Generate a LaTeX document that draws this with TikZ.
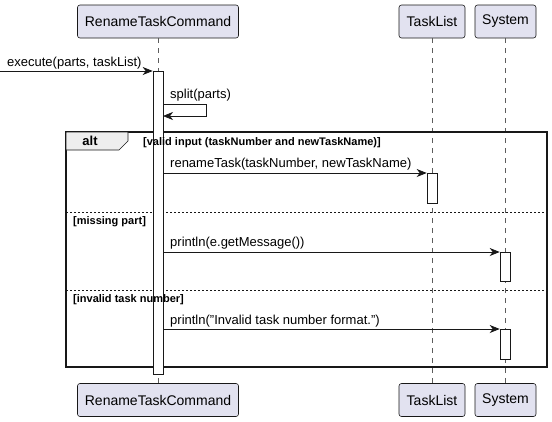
\documentclass[tikz,border=0pt]{standalone}
\usepackage{fontspec}
\setmainfont{Liberation Sans}
\usetikzlibrary{arrows.meta}
\definecolor{partfill}{HTML}{E2E2F0}
\definecolor{partline}{HTML}{181818}
\definecolor{tabfill}{HTML}{EEEEEE}
\tikzset{
  participant/.style={draw=partline, fill=partfill, rounded corners=2.5pt, line width=0.6pt,
    minimum height=33pt, inner sep=0pt, font=\fontsize{14}{16}\selectfont},
  lifeline/.style={draw=partline!70, line width=0.5pt, dash pattern=on 5pt off 5pt},
  act/.style={draw=partline, fill=white, line width=0.6pt, minimum width=10pt, inner sep=0pt, anchor=north},
  msg/.style={draw=partline, line width=0.7pt, -{Stealth[length=10pt,width=8pt,inset=3pt]}},
  msglabel/.style={anchor=base west, inner sep=0pt, font=\fontsize{13}{15}\selectfont},
  guard/.style={anchor=base west, inner sep=0pt, font=\fontsize{11}{13}\selectfont\bfseries},
  framebox/.style={draw=partline, line width=1.6pt},
  separator/.style={draw=partline, line width=0.6pt, dash pattern=on 2pt off 2pt},
}
\begin{document}
\begin{tikzpicture}[x=1pt,y=-1pt]
\useasboundingbox (0,0) rectangle (552,421);
% participants
\node[participant, minimum width=161pt] (rtcTop) at (158,21.5) {RenameTaskCommand};
\node[participant, minimum width=66pt] (tlTop) at (432,21.5) {TaskList};
\node[participant, minimum width=61pt] (sysTop) at (505.5,21.5) {System};
\node[participant, minimum width=161pt] (rtcBot) at (158,400) {RenameTaskCommand};
\node[participant, minimum width=66pt] (tlBot) at (432,400) {TaskList};
\node[participant, minimum width=61pt] (sysBot) at (505.5,400) {System};
% lifelines
\draw[lifeline] (rtcTop) -- (rtcBot);
\draw[lifeline] (tlTop) -- (tlBot);
\draw[lifeline] (sysTop) -- (sysBot);
% alt frame
\coordinate (fNW) at (66,132);
\coordinate (fSE) at (547,367);
\draw[framebox] (fNW) rectangle (fSE);
\draw[draw=partline, line width=0.6pt, fill=tabfill] (66,132) -- (128,132) -- (128,141) -- (119,150) -- (66,150) -- cycle;
\node[anchor=base, inner sep=0pt, font=\fontsize{13}{15}\selectfont\bfseries] (altlbl) at (90,145.5) {alt};
\draw[separator] (66,212) -- (547,212);
\draw[separator] (66,290) -- (547,290);
% activations
\node[act, minimum height=303pt] (a1) at (158,71) {};
\node[act, minimum height=30pt] (aTL) at (432,173) {};
\node[act, minimum height=29pt] (aS1) at (505,252) {};
\node[act, minimum height=30pt] (aS2) at (505,329) {};
% guards (drawn over activation)
\node[guard] (g1) at (143,145) {[valid input (taskNumber and newTaskName)]};
\node[guard] (g2) at (73,224) {[missing part]};
\node[guard] (g3) at (73,302) {[invalid task number]};
% messages
\coordinate (start) at (0,71);
\draw[msg] (start) -- (a1.north west);
\node[msglabel] (m1) at (7,66) {execute(parts, taskList)};
\coordinate (s1) at (163,104);
\coordinate (s2) at (206,104);
\coordinate (s3) at (206,116);
\coordinate (s4) at (163,116);
\draw[msg] (s1) -- (s2) -- (s3) -- (s4);
\node[msglabel] (m2) at (170,98) {split(parts)};
\draw[msg] (a1.east |- aTL.north) -- (aTL.north west);
\node[msglabel] (m3) at (170,167) {renameTask(taskNumber, newTaskName)};
\draw[msg] (a1.east |- aS1.north) -- (aS1.north west);
\node[msglabel] (m4) at (170,246) {println(e.getMessage())};
\draw[msg] (a1.east |- aS2.north) -- (aS2.north west);
\node[msglabel] (m5) at (170,324) {println("Invalid task number format.")};
\end{tikzpicture}
\end{document}
